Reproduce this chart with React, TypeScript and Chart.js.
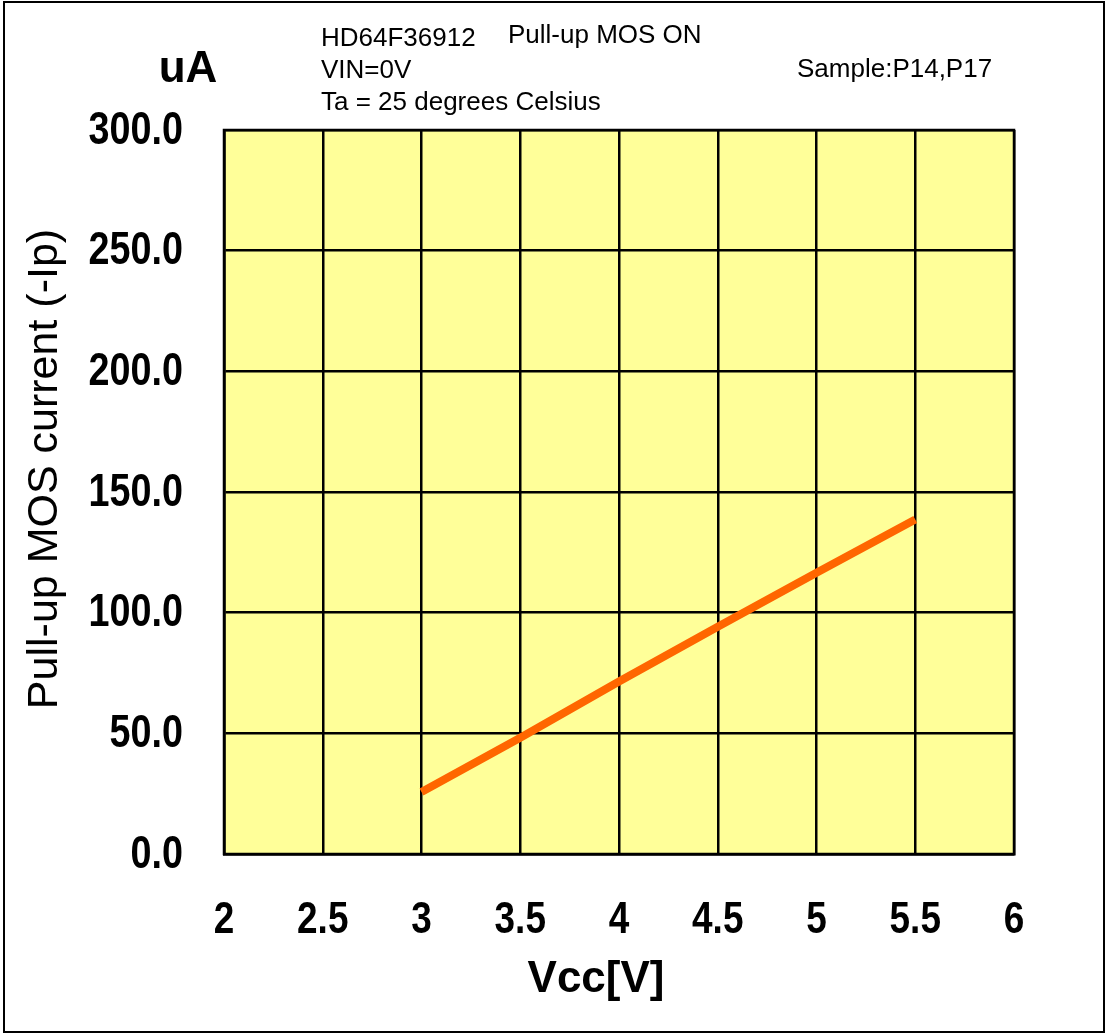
import React, { useEffect, useRef } from "react";
import { Chart, registerables } from "chart.js";

Chart.register(...registerables);

const vccValues = [3, 3.5, 4, 4.5, 5, 5.5];
const currentValues = [25.7, 48.2, 71.5, 94.2, 116.5, 138.6];

const xMin = 2;
const xMax = 6;
const xStep = 0.5;
const yMin = 0;
const yMax = 300;
const yStep = 50;

const headerLines = ["HD64F36912", "VIN=0V", "Ta = 25 degrees Celsius"];
const headerRight = "Pull-up MOS ON";
const sampleText = "Sample:P14,P17";
const unitText = "uA";
const yTitle = "Pull-up MOS current (-Ip)";
const xTitle = "Vcc[V]";

const W = 1107;
const H = 1035;
const SANS = "'Liberation Sans', Arial, sans-serif";
const NARROW = 0.82;

export default function App() {
  const ref = useRef<HTMLCanvasElement | null>(null);

  useEffect(() => {
    document.body.style.margin = "0";
    const canvas = ref.current;
    if (!canvas) return;

    const decor = {
      id: "decor",
      beforeDraw(chart: any) {
        const { ctx, chartArea } = chart;
        ctx.save();
        ctx.fillStyle = "#ffffff";
        ctx.fillRect(0, 0, chart.width, chart.height);
        ctx.fillStyle = "#FFFF99";
        ctx.fillRect(chartArea.left, chartArea.top, chartArea.right - chartArea.left, chartArea.bottom - chartArea.top);
        ctx.restore();
      },
      afterDraw(chart: any) {
        const { ctx, chartArea } = chart;
        ctx.save();
        ctx.strokeStyle = "#000";
        ctx.lineWidth = 2;
        ctx.strokeRect(4, 2, 1100, 1030);
        ctx.lineWidth = 2.5;
        ctx.strokeRect(chartArea.left, chartArea.top, chartArea.right - chartArea.left, chartArea.bottom - chartArea.top);

        ctx.fillStyle = "#000";
        ctx.textBaseline = "middle";
        const xs = chart.scales.x;
        const ys = chart.scales.y;
        ctx.font = `bold 45px ${SANS}`;
        xs.ticks.forEach((t: any) => {
          const px = xs.getPixelForValue(t.value);
          ctx.save();
          ctx.translate(px, 921);
          ctx.scale(NARROW, 1);
          ctx.textAlign = "center";
          ctx.fillText(String(t.value), 0, 0);
          ctx.restore();
        });
        ctx.font = `bold 46px ${SANS}`;
        ys.ticks.forEach((t: any) => {
          const py = ys.getPixelForValue(t.value);
          ctx.save();
          ctx.translate(183, py + 1);
          ctx.scale(NARROW, 1);
          ctx.textAlign = "right";
          ctx.fillText(Number(t.value).toFixed(1), 0, 0);
          ctx.restore();
        });

        ctx.textAlign = "left";
        ctx.font = `26px ${SANS}`;
        ctx.fillText(headerLines[0], 321, 39);
        ctx.fillText(headerLines[1], 321, 71);
        ctx.fillText(headerLines[2], 321, 103);
        ctx.fillText(headerRight, 508, 36);
        ctx.fillText(sampleText, 797, 70);

        ctx.font = `bold 44px ${SANS}`;
        ctx.textAlign = "center";
        ctx.fillText(unitText, 188, 70);

        ctx.font = `bold 44px ${SANS}`;
        ctx.fillText(xTitle, 596, 980);

        ctx.save();
        ctx.translate(45, 469);
        ctx.rotate(-Math.PI / 2);
        ctx.font = `43px ${SANS}`;
        ctx.fillText(yTitle, 0, 0);
        ctx.restore();

        ctx.restore();
      },
    };

    const chart = new Chart(canvas, {
      type: "line",
      data: {
        datasets: [
          {
            data: vccValues.map((v, i) => ({ x: v, y: currentValues[i] })),
            borderColor: "#FF6600",
            borderWidth: 8,
            pointRadius: 0,
            fill: false,
            tension: 0,
          },
        ],
      },
      options: {
        animation: false,
        responsive: false,
        devicePixelRatio: 1,
        layout: { padding: { left: 4, top: 130, right: 93, bottom: 0 } },
        plugins: { legend: { display: false }, tooltip: { enabled: false } },
        scales: {
          x: {
            type: "linear",
            min: xMin,
            max: xMax,
            afterFit: (s: any) => {
              s.height = 181;
            },
            ticks: {
              stepSize: xStep,
              color: "rgba(0,0,0,0)",
              padding: 40,
              font: { family: SANS, size: 44, weight: "bold" },
              callback: (v: any) => String(v),
            },
            grid: { color: "#000", lineWidth: 2.5, drawTicks: false },
            border: { color: "#000", width: 2.5 },
          },
          y: {
            min: yMin,
            max: yMax,
            afterFit: (s: any) => {
              s.width = 220;
            },
            ticks: {
              stepSize: yStep,
              color: "rgba(0,0,0,0)",
              padding: 41,
              font: { family: SANS, size: 44, weight: "bold" },
              callback: (v: any) => Number(v).toFixed(1),
            },
            grid: { color: "#000", lineWidth: 2.5, drawTicks: false },
            border: { color: "#000", width: 2.5 },
          },
        },
      },
      plugins: [decor],
    });

    return () => chart.destroy();
  }, []);

  return (
    <div style={{ position: "absolute", left: 0, top: 0, width: W, height: H }}>
      <canvas ref={ref} width={W} height={H} style={{ width: W, height: H, display: "block" }} />
    </div>
  );
}
